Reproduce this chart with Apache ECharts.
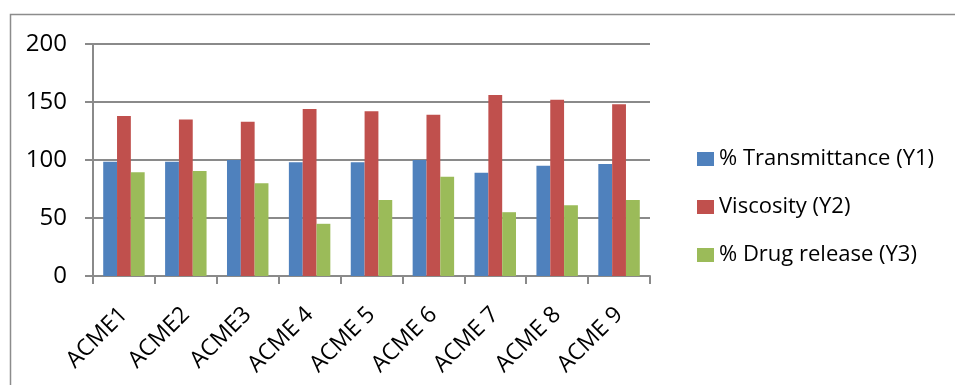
<!DOCTYPE html>
<html>
<head>
<meta charset="utf-8">
<script src="https://cdn.jsdelivr.net/npm/echarts@6/dist/echarts.min.js"></script>
<style>
  html, body { margin: 0; padding: 0; background: #fff; }
  #chart { width: 955px; height: 385px; }
</style>
</head>
<body>
<div id="chart"></div>
<script>
// Formulation batches and their measured responses
const categories = ['ACME1', 'ACME2', 'ACME3', 'ACME 4', 'ACME 5', 'ACME 6', 'ACME 7', 'ACME 8', 'ACME 9'];
const transmittance = [98.5, 98.5, 100, 98, 98, 100, 89, 95, 96.5];
const viscosity = [138, 135, 133, 144, 142, 139, 156, 152, 148];
const drugRelease = [89.5, 90.5, 80, 45, 65.5, 85.5, 55, 61, 65.5];
const seriesNames = ['% Transmittance (Y1)', 'Viscosity (Y2)', '% Drug release (Y3)'];
const yTicks = [0, 50, 100, 150, 200];

const FONT = '"Open Sans", "Noto Sans", "Liberation Sans", sans-serif';
const GRID_COLOR = '#8a8a8a';

const chart = echarts.init(document.getElementById('chart'), null, { renderer: 'canvas' });

const barSeries = (name, data, color) => ({
  name: name,
  type: 'bar',
  data: data,
  barGap: '0%',
  barCategoryGap: '33%',
  itemStyle: { color: color },
  emphasis: { disabled: true },
  animation: false
});

chart.setOption({
  animation: false,
  backgroundColor: '#ffffff',
  textStyle: { fontFamily: FONT },
  graphic: [{
    type: 'rect',
    shape: { x: 10.5, y: 14.5, width: 2000, height: 2000 },
    style: { fill: 'none', stroke: '#8c8c8c', lineWidth: 1.5 },
    silent: true
  }],
  grid: { left: 93, right: 305, top: 44, bottom: 109, containLabel: false },
  legend: {
    orient: 'vertical',
    left: 692,
    top: 142,
    itemWidth: 17,
    itemHeight: 14,
    itemGap: 24,
    icon: 'rect',
    data: seriesNames,
    selectedMode: false,
    textStyle: { fontSize: 22, lineHeight: 24, color: '#000', fontFamily: FONT }
  },
  xAxis: {
    type: 'category',
    data: categories,
    axisLine: { show: true, lineStyle: { color: GRID_COLOR, width: 2 } },
    axisTick: { show: true, length: 8, lineStyle: { color: GRID_COLOR, width: 2 } },
    axisLabel: { rotate: 45, fontSize: 23, color: '#000', margin: 35, interval: 0, fontFamily: FONT }
  },
  yAxis: {
    type: 'value',
    min: yTicks[0],
    max: yTicks[yTicks.length - 1],
    interval: 50,
    axisLine: { show: true, lineStyle: { color: GRID_COLOR, width: 2 } },
    axisTick: { show: true, length: 8, lineStyle: { color: GRID_COLOR, width: 2 } },
    splitLine: { show: true, lineStyle: { color: GRID_COLOR, width: 2 } },
    axisLabel: { fontSize: 24, color: '#000', margin: 26, fontFamily: FONT }
  },
  series: [
    barSeries(seriesNames[0], transmittance, '#4f81bd'),
    barSeries(seriesNames[1], viscosity, '#c0504d'),
    barSeries(seriesNames[2], drugRelease, '#9bbb59')
  ]
});
</script>
</body>
</html>
